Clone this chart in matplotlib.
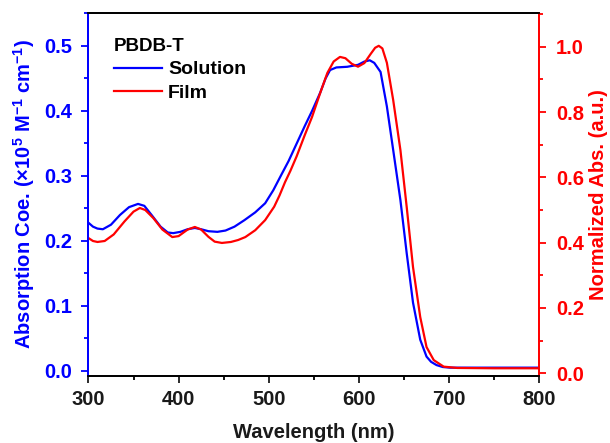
import matplotlib
matplotlib.use('Agg')
import matplotlib.pyplot as plt
from matplotlib.ticker import MultipleLocator
from matplotlib.lines import Line2D

plt.rcParams['font.family'] = ['Liberation Sans', 'DejaVu Sans']
plt.rcParams['font.weight'] = 'bold'
plt.rcParams['mathtext.fontset'] = 'custom'
plt.rcParams['mathtext.rm'] = 'Liberation Sans:bold'
plt.rcParams['mathtext.it'] = 'Liberation Sans:bold'
plt.rcParams['mathtext.bf'] = 'Liberation Sans:bold'

# solution absorption coefficient (x1e5 M-1 cm-1)
sol_wl = [300, 305, 310, 316, 325, 335, 345, 355, 362, 370, 380, 388, 394, 402, 410,
          418, 425, 433, 443, 452, 462, 473, 485, 496, 505, 514, 522, 531, 540, 548,
          557, 563, 568, 575, 587, 599, 606, 612, 617, 620, 624, 631, 638, 646, 653,
          660, 668, 675, 680, 686, 693, 701, 750, 800]
sol_abs = [0.228, 0.222, 0.219, 0.218, 0.225, 0.240, 0.252, 0.257, 0.254, 0.240,
           0.222, 0.213, 0.212, 0.214, 0.218, 0.220, 0.218, 0.215, 0.214, 0.216,
           0.222, 0.232, 0.244, 0.258, 0.278, 0.302, 0.323, 0.350, 0.377, 0.400,
           0.428, 0.450, 0.463, 0.467, 0.468, 0.471, 0.476, 0.478, 0.474, 0.468,
           0.460, 0.407, 0.340, 0.263, 0.181, 0.105, 0.048, 0.022, 0.014, 0.009,
           0.006, 0.005, 0.005, 0.005]

# film normalized absorbance
film_wl = [300, 305, 310, 318, 328, 340, 350, 357, 363, 372, 382, 393, 400, 410, 418,
           425, 433, 440, 448, 458, 466, 474, 485, 496, 506, 512, 518, 524, 531, 540,
           548, 557, 565, 572, 579, 585, 592, 599, 606, 613, 618, 622, 626, 631, 638,
           646, 653, 660, 668, 675, 683, 694, 709, 750, 800]
film_abs = [0.414, 0.405, 0.402, 0.405, 0.425, 0.465, 0.495, 0.506, 0.500, 0.475,
            0.440, 0.417, 0.420, 0.440, 0.448, 0.440, 0.418, 0.403, 0.399, 0.402,
            0.408, 0.417, 0.438, 0.469, 0.510, 0.545, 0.585, 0.620, 0.665, 0.730,
            0.785, 0.858, 0.920, 0.955, 0.969, 0.965, 0.948, 0.939, 0.950, 0.978,
            0.997, 1.003, 0.995, 0.951, 0.837, 0.684, 0.509, 0.325, 0.172, 0.080,
            0.040, 0.020, 0.016, 0.015, 0.015]

blue = '#0000ff'
red = '#ff0000'
fs = 14.5

fig = plt.figure(figsize=(6.1, 4.43), dpi=100)
ax = fig.add_axes([0.145, 0.151, 0.739, 0.820])
ax2 = ax.twinx()

ax.plot(sol_wl, sol_abs, color=blue, lw=1.6)
ax2.plot(film_wl, film_abs, color=red, lw=1.6)

ax.set_xlim(300, 800)
ax.set_ylim(-0.008, 0.551)
ax2.set_ylim(-0.009, 1.104)

ax.xaxis.set_major_locator(MultipleLocator(100))
ax.xaxis.set_minor_locator(MultipleLocator(50))
ax.yaxis.set_major_locator(MultipleLocator(0.1))
ax.yaxis.set_minor_locator(MultipleLocator(0.05))
ax2.yaxis.set_major_locator(MultipleLocator(0.2))
ax2.yaxis.set_minor_locator(MultipleLocator(0.1))

for a in (ax, ax2):
    for s in a.spines.values():
        s.set_linewidth(1.3)
ax2.spines['left'].set_color(blue)
ax2.spines['right'].set_color(red)
ax.spines['left'].set_color(blue)
ax.spines['right'].set_color(red)

ax.tick_params(axis='x', which='major', direction='out', length=5, width=1.3,
               labelsize=fs, colors='#1a1a1a', top=False, pad=5)
ax.tick_params(axis='x', which='minor', direction='out', length=3, width=1.3, top=False)
ax.tick_params(axis='y', which='both', direction='out', colors=blue, width=1.3,
               labelsize=fs, pad=7)
ax.tick_params(axis='y', which='major', length=5)
ax.tick_params(axis='y', which='minor', length=3)
ax2.tick_params(axis='y', which='both', direction='out', colors=red, width=1.3,
                labelsize=fs, pad=7)
ax2.tick_params(axis='y', which='major', length=5)
ax2.tick_params(axis='y', which='minor', length=3)

ax.set_xlabel('Wavelength (nm)', fontsize=fs, fontweight='bold', color='#1a1a1a', labelpad=10)
ax.set_ylabel(r'Absorption Coe. (×10$^{5}$ M$^{-1}$ cm$^{-1}$)', fontsize=fs,
              fontweight='bold', color=blue, labelpad=5)
ax2.set_ylabel('Normalized Abs. (a.u.)', fontsize=fs, fontweight='bold', color=red, labelpad=4)

handles = [Line2D([], [], color=blue, lw=1.6), Line2D([], [], color=red, lw=1.6)]
leg = ax.legend(handles, ['Solution', 'Film'], title='PBDB-T', loc='upper left',
                bbox_to_anchor=(0.03, 0.963), frameon=False, fontsize=14,
                title_fontsize=13.5, handlelength=2.5, handletextpad=0.3,
                labelspacing=0.3, alignment='left', borderaxespad=0.2)
leg.get_title().set_fontweight('bold')

fig.savefig('out.png', dpi=100)
